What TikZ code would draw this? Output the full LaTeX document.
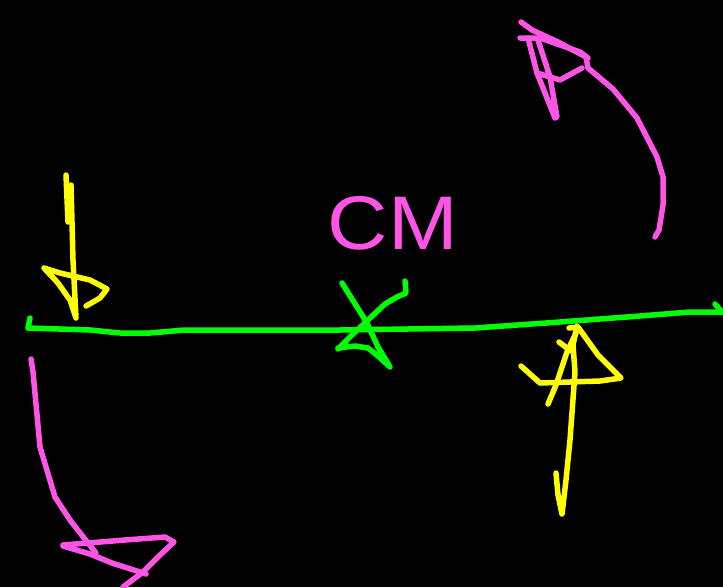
\documentclass[tikz,border=0pt]{standalone}
\usepackage{fontspec}
\setmainfont{Liberation Sans}
\definecolor{pk}{RGB}{255,85,230}
\definecolor{gr}{RGB}{0,255,0}
\definecolor{yl}{RGB}{255,255,0}
\begin{document}
\begin{tikzpicture}[x=1pt,y=-1pt,
  stroke/.style={line width=5.5pt,line cap=round,line join=round},
  pkline/.style={stroke,draw=pk},
  grline/.style={stroke,draw=gr},
  ylline/.style={stroke,draw=yl}]
\fill[black] (0,0) rectangle (723,587);
\useasboundingbox (0,0) rectangle (723,587);
% axis
\coordinate (axL) at (28,328);
\coordinate (axR) at (723,312);
\draw[grline] (axL) -- (90,330) -- (120,333) -- (150,333) -- (185,330) -- (340,330) -- (475,328) -- (560,322) -- (640,316) -- (690,312) -- (axR);
\draw[grline] (30,318) -- (axL);
\draw[grline] (715,304) -- (722,312);
% green cross arrow
\draw[grline] (342,283) -- (367,323) -- (378,347) -- (390,367) -- (378,356) -- (368,348) -- (355,346) -- (338,348);
\draw[grline] (405,281) -- (406,293) -- (397,297) -- (385,304) -- (368,320) -- (352,335) -- (338,349) -- (346,344);
% label
\node[text=pk,font=\fontsize{76}{76}\selectfont,xscale=1.1] (cm) at (393,223) {CM};
% yellow left arrow
\draw[ylline] (66,175) -- (68,222);
\draw[ylline] (71,185) -- (73,260) -- (76,318) -- (70,300) -- (58,283) -- (44,268) -- (60,273) -- (90,280) -- (107,289) -- (100,298) -- (86,306);
% yellow right arrow
\draw[ylline] (556,473) -- (558,495) -- (562,514) -- (566,480) -- (570,440) -- (575,372) -- (573,345) -- (577,326);
\draw[ylline] (569,328) -- (578,327) -- (598,355) -- (621,378) -- (600,381) -- (540,383) -- (521,366);
\draw[ylline] (576,333) -- (567,352) -- (556,385) -- (548,404);
\draw[ylline] (559,342) -- (571,351);
% pink top-right arrow
\draw[pkline] (655,237) -- (659,230) -- (663,205) -- (663,177) -- (657,157) -- (637,118) -- (613,89) -- (588,68) -- (586,57) -- (558,42) -- (532,30) -- (521,22);
\draw[pkline] (520,38) -- (540,38) -- (580,52) -- (588,58);
\draw[pkline] (528,38) -- (537,73) -- (555,118) -- (557,117) -- (550,77) -- (538,40);
\draw[pkline] (537,73) -- (560,80) -- (582,68);
% pink bottom-left arrow
\draw[pkline] (31,359) -- (33,372) -- (40,447) -- (55,497) -- (70,520) -- (88,543) -- (96,553);
\draw[pkline] (63,545) -- (125,540) -- (165,537) -- (174,542) -- (160,555) -- (143,572) -- (123,587);
\draw[pkline] (63,546) -- (90,554) -- (112,563) -- (140,572) -- (146,574);
\end{tikzpicture}
\end{document}
